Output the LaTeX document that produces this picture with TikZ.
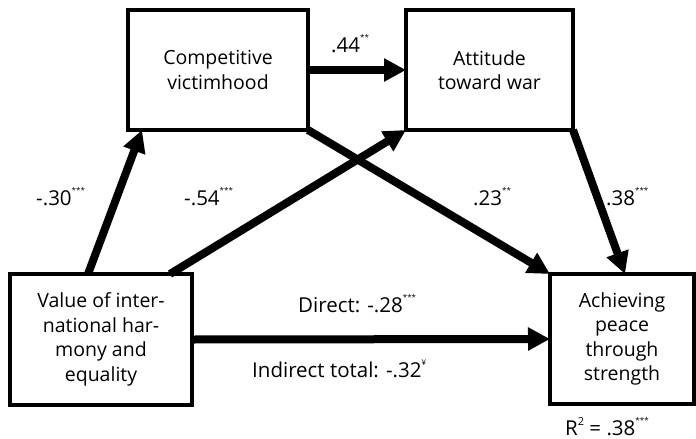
\documentclass[tikz,border=0pt]{standalone}
\usepackage{fontspec}
\setmainfont{Open Sans}
\usetikzlibrary{arrows.meta,calc}
\newcommand{\sig}[1]{\raisebox{1.05ex}{\fontsize{8}{8}\selectfont #1}}
\begin{document}
\begin{tikzpicture}[x=1pt,y=-1pt,
  box/.style={draw,line width=4pt,outer sep=0pt,inner sep=0pt,align=center,
    font=\fontsize{19.5}{24.5}\selectfont},
  path/.style={line width=8pt,-{Triangle[length=22pt,width=22pt]}},
  lab/.style={inner sep=0pt,anchor=base west,font=\fontsize{20.5}{24}\selectfont}]
\useasboundingbox (0,0) rectangle (696,439);
\node[box,minimum width=180pt,minimum height=120pt] (comp) at (218,70) {Competitive\\victimhood};
\node[box,minimum width=167pt,minimum height=120pt] (att) at (489.5,70) {Attitude\\toward war};
\node[box,minimum width=182pt,minimum height=131pt] (val) at (101,339.5) {Value of inter-\\national har-\\mony and\\equality};
\node[box,minimum width=144pt,minimum height=130pt] (ach) at (622,339) {Achieving\\peace\\through\\strength};
\draw[path] ([xshift=78pt]val.north west) -- ([xshift=14pt]comp.south west);
\draw[path] ([xshift=-22pt]val.north east) -- (att.south west);
\draw[path] (comp.east) -- (att.west);
\draw[path] (comp.south east) -- (ach.north west);
\draw[path] (att.south east) -- ([xshift=75pt]ach.north west);
\draw[path] (val.east) -- (ach.west);
\node[lab] (l30) at (36,205) {-.30\sig{***}};
\node[lab] (l54) at (184,205) {-.54\sig{***}};
\node[lab] (l23) at (473,205) {.23\sig{**}};
\node[lab] (l38) at (606,205) {.38\sig{***}};
\node[lab] (l44) at (331,52) {.44\sig{**}};
\node[lab] (ldir) at (298,312) {Direct: -.28\sig{***}};
\node[lab] (lind) at (252,377) {Indirect total: -.32\sig{¥}};
\node[lab] (lr2) at (565,435) {R\raisebox{0.9ex}{\fontsize{11}{11}\selectfont 2} = .38\sig{***}};
\end{tikzpicture}
\end{document}
